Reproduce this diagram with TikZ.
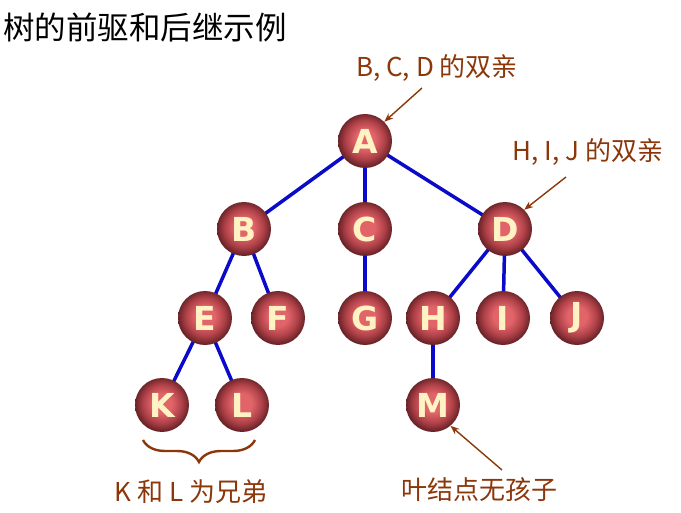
\documentclass[tikz,border=0pt]{standalone}
\usepackage{fontspec}
\setmainfont{DejaVu Sans}
\newfontfamily\cjk{Noto Sans CJK SC}
\usetikzlibrary{decorations.pathreplacing,arrows.meta}
\definecolor{edgeblue}{RGB}{10,10,200}
\definecolor{notebrown}{RGB}{140,55,10}
\definecolor{ballc}{RGB}{225,100,105}
\definecolor{ballm}{RGB}{175,65,72}
\definecolor{balle}{RGB}{105,35,40}
\definecolor{letter}{RGB}{255,242,195}
\pgfdeclareradialshading{treeball}{\pgfpoint{0bp}{2bp}}{color(0bp)=(ballc); color(9bp)=(ballc); color(18bp)=(ballm); color(25bp)=(balle); color(50bp)=(balle)}
\tikzset{
  tnode/.style={circle, minimum size=54pt, inner sep=0pt, shading=treeball,
    text=letter, font=\fontsize{33}{35}\selectfont\bfseries},
  tedge/.style={draw=edgeblue, line width=3.5pt},
  note/.style={text=notebrown, font=\cjk\fontsize{26}{28}\selectfont, inner sep=0pt},
  notearrow/.style={draw=notebrown, line width=1.4pt, -{Stealth[length=9pt,width=7pt]}},
}
\begin{document}
\begin{tikzpicture}[x=1pt,y=-1pt]
\useasboundingbox (0,0) rectangle (681,513);
\node[anchor=west, inner sep=0pt, font=\cjk\fontsize{31.5}{34}\selectfont] (title) at (3,27) {树的前驱和后继示例};
\coordinate (pA) at (365,141);
\coordinate (pB) at (244,229);
\coordinate (pC) at (365,229);
\coordinate (pD) at (505,229);
\coordinate (pE) at (205,318);
\coordinate (pF) at (278,318);
\coordinate (pG) at (365,318);
\coordinate (pH) at (433,318);
\coordinate (pI) at (503,318);
\coordinate (pJ) at (577,318);
\coordinate (pK) at (162,405);
\coordinate (pL) at (242,405);
\coordinate (pM) at (433,405);
\foreach \a/\b in {A/B,A/C,A/D,B/E,B/F,C/G,D/H,D/I,D/J,E/K,E/L,H/M}
  \path[tedge] (p\a) -- (p\b);
\foreach \n in {A,B,C,D,E,F,G,H,I,J,K,L,M}
  \node[tnode] (\n) at (p\n) {\n};
\node[note] (n1) at (437,68) {B, C, D 的双亲};
\node[note] (n2) at (588,152) {H, I, J 的双亲};
\node[note] (n3) at (191,492) {K 和 L 为兄弟};
\node[note] (n4) at (479,490) {叶结点无孩子};
\coordinate (s1) at (422,88);
\coordinate (s2) at (566,177);
\coordinate (s4) at (502,470);
\draw[notearrow] (s1) -- (A.45);
\draw[notearrow] (s2) -- (D.45);
\draw[notearrow] (s4) -- (M.-50);
\coordinate (b1) at (143,440);
\coordinate (b2) at (255,440);
\draw[notebrown, line width=2.4pt, decorate, decoration={brace, amplitude=22pt}] (b2) -- (b1);
\end{tikzpicture}
\end{document}
